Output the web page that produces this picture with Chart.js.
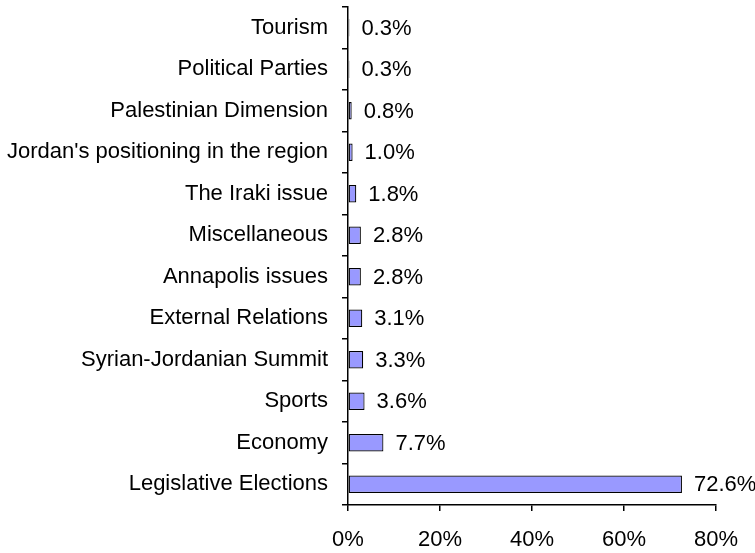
<!DOCTYPE html>
<html>
<head>
<meta charset="utf-8">
<script src="https://cdn.jsdelivr.net/npm/chart.js@4"></script>
<style>
  html, body { margin: 0; padding: 0; background: #fff; }
  #wrap { width: 755px; height: 553px; }
</style>
</head>
<body>
<div id="wrap"><canvas id="chart"></canvas></div>
<script>
// categories, top to bottom
const topics = [
  'Tourism',
  'Political Parties',
  'Palestinian Dimension',
  "Jordan's positioning in the region",
  'The Iraki issue',
  'Miscellaneous',
  'Annapolis issues',
  'External Relations',
  'Syrian-Jordanian Summit',
  'Sports',
  'Economy',
  'Legislative Elections'
];
// share of coverage, percent
const shares = [0.3, 0.3, 0.8, 1.0, 1.8, 2.8, 2.8, 3.1, 3.3, 3.6, 7.7, 72.6];
// x axis ticks
const xTicks = [0, 20, 40, 60, 80];

const FONT = 'Arial, "Liberation Sans", sans-serif';
const FONT_SIZE = 22;

// writes the percent next to each bar
const valueLabels = {
  id: 'valueLabels',
  afterDatasetsDraw(chart) {
    const ctx = chart.ctx;
    const meta = chart.getDatasetMeta(0);
    ctx.save();
    ctx.font = FONT_SIZE + 'px ' + FONT;
    ctx.fillStyle = '#000';
    ctx.textAlign = 'left';
    ctx.textBaseline = 'middle';
    meta.data.forEach((bar, i) => {
      ctx.fillText(shares[i].toFixed(1) + '%', bar.x + 12, bar.y + 1);
    });
    ctx.restore();
  }
};

new Chart(document.getElementById('chart'), {
  type: 'bar',
  data: {
    labels: topics,
    datasets: [{
      data: shares,
      backgroundColor: '#9999FF',
      borderColor: '#000',
      borderWidth: 1.2,
      borderSkipped: false,
      barPercentage: 0.42,
      categoryPercentage: 1
    }]
  },
  options: {
    indexAxis: 'y',
    responsive: true,
    maintainAspectRatio: false,
    animation: false,
    layout: { padding: { top: 7, right: 39, left: 0, bottom: 0 } },
    plugins: {
      legend: { display: false },
      tooltip: { enabled: false }
    },
    scales: {
      x: {
        min: 0,
        max: 80,
        afterBuildTicks(scale) {
          scale.ticks = xTicks.map(v => ({ value: v }));
        },
        afterFit(scale) {
          scale.height = 48;
          scale.paddingLeft = 0;
          scale.paddingRight = 0;
        },
        border: { display: true, color: '#000', width: 1.5 },
        grid: { drawOnChartArea: false, drawTicks: true, tickLength: 6, color: '#000', lineWidth: 1.5 },
        ticks: {
          padding: 16,
          color: '#000',
          font: { size: FONT_SIZE, family: FONT },
          callback: v => v + '%'
        }
      },
      y: {
        afterFit(scale) {
          scale.width = 348;
          scale.paddingTop = 0;
          scale.paddingBottom = 0;
        },
        border: { display: true, color: '#000', width: 1.5 },
        grid: { offset: true, drawOnChartArea: false, drawTicks: true, tickLength: 6, color: '#000', lineWidth: 1.5 },
        ticks: {
          padding: 14,
          color: '#000',
          autoSkip: false,
          font: { size: FONT_SIZE, family: FONT }
        }
      }
    }
  },
  plugins: [valueLabels]
});
</script>
</body>
</html>
